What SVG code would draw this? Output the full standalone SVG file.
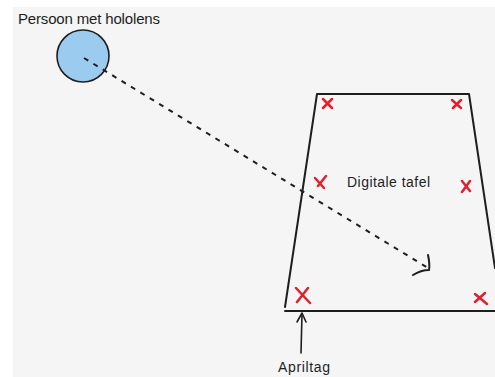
<svg xmlns="http://www.w3.org/2000/svg" width="495" height="377" viewBox="0 0 495 377">
<style>
.lbl{font-family:"Liberation Sans",Arial,sans-serif;fill:#1e1e1e}
.edge{fill:none;stroke:#1e1e1e;stroke-width:2;stroke-linecap:round;stroke-linejoin:round}
.mark{fill:none;stroke:#e0202e;stroke-width:2.5;stroke-linecap:round}
</style>
<rect x="0" y="0" width="495" height="377" fill="#ffffff"/>
<rect x="13" y="7" width="482" height="370" fill="#f5f5f5"/>
<g id="persoon">
<text class="lbl" x="18" y="24" font-size="15" textLength="142">Persoon met hololens</text>
<circle cx="83" cy="56" r="26" fill="#9ccbf0" stroke="#1e1e1e" stroke-width="1.6"/>
</g>
<g id="tafel">
<path class="edge" d="M317 94 L469 94 M317 94 L285 307 M469 94 L495 268 M285 311 L495 311"/>
<text class="lbl" x="347" y="187" font-size="14" textLength="83">Digitale tafel</text>
</g>
<g id="markers">
<path class="mark" d="M323 99 L332 108 M332 99 L323 108"/>
<path class="mark" d="M452 100 L461 108 M461 100 L453 108"/>
<path class="mark" d="M315 178 L324 188 M326 176 L318 186"/>
<path class="mark" d="M462 181 L470 191 M470 181 L462 192"/>
<path class="mark" d="M296 288 L310 303 M308 288 L297 302"/>
<path class="mark" d="M475 294 L487 304 M485 293 L475 302"/>
</g>
<g id="apriltag">
<text class="lbl" x="278" y="372" font-size="14" textLength="52">Apriltag</text>
</g>
<g id="connectors">
<path d="M84 58 L428 268" fill="none" stroke="#1e1e1e" stroke-width="2" stroke-dasharray="5 6"/>
<path class="edge" d="M428 255 Q430 264 429 270 Q421 270 413 275" stroke-width="2.2"/>
<path d="M301 353 L302 314" fill="none" stroke="#1e1e1e" stroke-width="1.6" stroke-linecap="round"/>
<path d="M297 322 L302 313 L306 322" fill="none" stroke="#1e1e1e" stroke-width="1.6" stroke-linecap="round" stroke-linejoin="round"/>
</g>
</svg>
